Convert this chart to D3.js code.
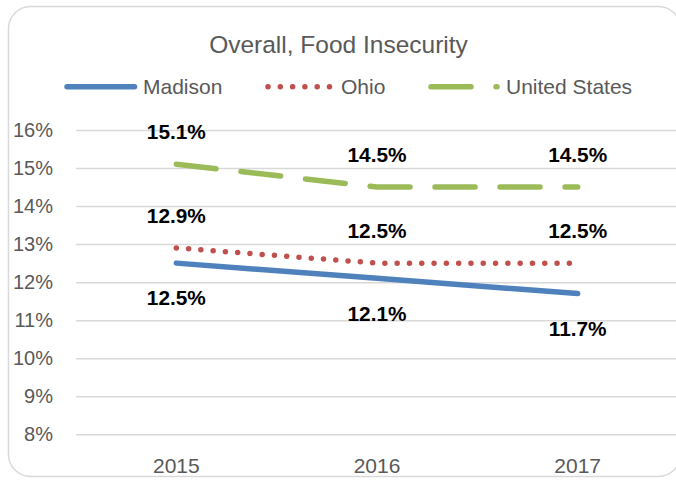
<!DOCTYPE html>
<html>
<head>
<meta charset="utf-8">
<script src="https://cdn.jsdelivr.net/npm/d3@7"></script>
<style>
  html, body { margin: 0; padding: 0; background: #fff; }
  svg { display: block; }
  text { font-family: "Liberation Sans", Arial, sans-serif; }
</style>
</head>
<body>
<svg id="chart" width="676" height="482"></svg>
<script>
const title = "Overall, Food Insecurity";
const years = ["2015", "2016", "2017"];
const madison = [12.5, 12.1, 11.7];
const ohio = [12.9, 12.5, 12.5];
const unitedStates = [15.1, 14.5, 14.5];
const seriesNames = ["Madison", "Ohio", "United States"];
const yTicks = [8, 9, 10, 11, 12, 13, 14, 15, 16];

const series = [
  { name: seriesNames[0], values: madison, color: "#4F81BD", dash: null, labelPos: "below" },
  { name: seriesNames[1], values: ohio, color: "#C0504D", dash: "0,12.3", labelPos: "above" },
  { name: seriesNames[2], values: unitedStates, color: "#9BBB59", dash: "40,25", labelPos: "above" }
];

const svg = d3.select("#chart");
const plotLeft = 76, plotRight = 678;

// border
svg.append("rect")
  .attr("x", 8.5).attr("y", 6.5)
  .attr("width", 672).attr("height", 470)
  .attr("rx", 22).attr("ry", 22)
  .attr("fill", "#fff")
  .attr("stroke", "#D9D9D9").attr("stroke-width", 1.5);

const x = d3.scaleBand().domain(years).range([plotLeft, plotRight]);
const y = d3.scaleLinear().domain([8, 16]).range([434.3, 130]);
const cx = d => x(d) + x.bandwidth() / 2;

// gridlines + y labels via axis
const yAxis = d3.axisLeft(y)
  .tickValues(yTicks)
  .tickSize(-(plotRight - plotLeft))
  .tickPadding(23)
  .tickFormat(d => d + "%");
const gy = svg.append("g").attr("transform", `translate(${plotLeft},0)`).call(yAxis);
gy.select(".domain").remove();
gy.selectAll(".tick line").attr("stroke", "#D9D9D9").attr("stroke-width", 1.5);
gy.selectAll(".tick text")
  .attr("fill", "#595959")
  .style("font-size", "20px")
  .attr("font-family", "Liberation Sans, Arial, sans-serif");

// x axis labels
const xAxis = d3.axisBottom(x).tickSize(0).tickPadding(0);
const gx = svg.append("g").attr("transform", `translate(0,${434.3})`).call(xAxis);
gx.select(".domain").remove();
gx.selectAll(".tick text")
  .attr("fill", "#595959")
  .style("font-size", "21px")
  .attr("font-family", "Liberation Sans, Arial, sans-serif")
  .attr("dy", null)
  .attr("y", 39);

// title
svg.append("text")
  .attr("x", 338.5).attr("y", 53.3)
  .attr("text-anchor", "middle")
  .attr("fill", "#595959")
  .style("font-size", "24.5px")
  .text(title);

// lines
const line = d3.line().x((d, i) => cx(years[i])).y(d => y(d));
series.forEach(s => {
  svg.append("path")
    .datum(s.values)
    .attr("d", line)
    .attr("fill", "none")
    .attr("stroke", s.color)
    .attr("stroke-width", 5.5)
    .attr("stroke-linecap", "round")
    .attr("stroke-linejoin", "round")
    .attr("stroke-dasharray", s.dash);
});

// data labels
series.forEach(s => {
  svg.append("g").selectAll("text")
    .data(s.values)
    .join("text")
    .attr("x", (d, i) => cx(years[i]))
    .attr("y", d => y(d) + (s.labelPos === "above" ? -24.8 : 42.2))
    .attr("text-anchor", "middle")
    .attr("fill", "#000")
    .attr("font-weight", "bold")
    .style("font-size", "20.8px")
    .text(d => d.toFixed(1) + "%");
});

// legend
const legendY = 86.7;
const legendItems = [
  { s: series[0], x1: 67, x2: 134.5, tx: 143 },
  { s: series[1], x1: 268, x2: 330, tx: 341 },
  { s: series[2], x1: 431, x2: 497, tx: 506 }
];
legendItems.forEach(it => {
  svg.append("line")
    .attr("x1", it.x1).attr("x2", it.x2)
    .attr("y1", legendY).attr("y2", legendY)
    .attr("stroke", it.s.color)
    .attr("stroke-width", 5.5)
    .attr("stroke-linecap", "round")
    .attr("stroke-dasharray", it.s.dash);
  svg.append("text")
    .attr("x", it.tx).attr("y", 94.3)
    .attr("fill", "#595959")
    .style("font-size", "21px")
    .text(it.s.name);
});
</script>
</body>
</html>
